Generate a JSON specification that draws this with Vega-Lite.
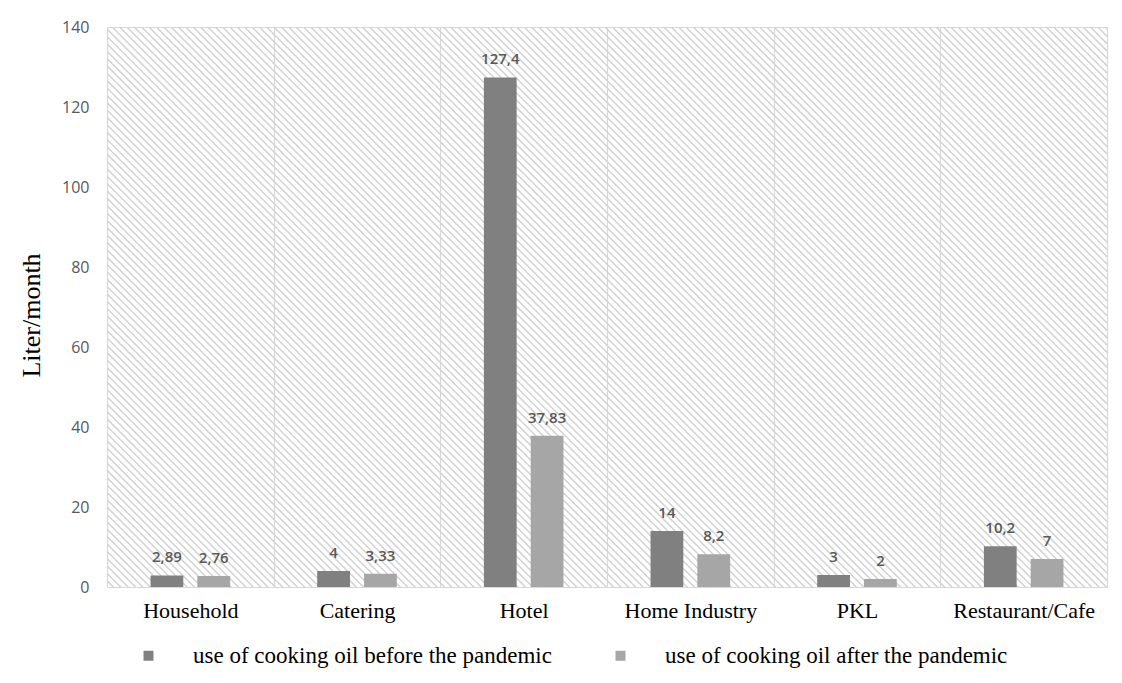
{
  "$schema": "https://vega.github.io/schema/vega-lite/v6.json",
  "width": 1000,
  "height": 560,
  "autosize": "none",
  "padding": {"left": 107, "top": 27, "right": 15, "bottom": 96},
  "background": "white",
  "config": {
    "locale": {"number": {"decimal": ",", "thousands": ".", "grouping": [3], "currency": ["", ""]}},
    "view": {"stroke": "#d9d9d9", "strokeWidth": 1},
    "axis": {"gridColor": "#d9d9d9", "gridWidth": 1.2, "domain": false, "ticks": false}
  },
  "data": {"values": [
    {"sector": "Household", "period": "use of cooking oil before the pandemic", "value": 2.89},
    {"sector": "Household", "period": "use of cooking oil after the pandemic", "value": 2.76},
    {"sector": "Catering", "period": "use of cooking oil before the pandemic", "value": 4},
    {"sector": "Catering", "period": "use of cooking oil after the pandemic", "value": 3.33},
    {"sector": "Hotel", "period": "use of cooking oil before the pandemic", "value": 127.4},
    {"sector": "Hotel", "period": "use of cooking oil after the pandemic", "value": 37.83},
    {"sector": "Home Industry", "period": "use of cooking oil before the pandemic", "value": 14},
    {"sector": "Home Industry", "period": "use of cooking oil after the pandemic", "value": 8.2},
    {"sector": "PKL", "period": "use of cooking oil before the pandemic", "value": 3},
    {"sector": "PKL", "period": "use of cooking oil after the pandemic", "value": 2},
    {"sector": "Restaurant/Cafe", "period": "use of cooking oil before the pandemic", "value": 10.2},
    {"sector": "Restaurant/Cafe", "period": "use of cooking oil after the pandemic", "value": 7}
  ]},
  "layer": [
    {
      "data": {"values": [{}]},
      "mark": {"type": "rule", "clip": true, "strokeWidth": 2000, "strokeDash": [1.5, 3.7], "color": "#d3d3d3"},
      "encoding": {
        "x": {"datum": "Household"},
        "x2": {"datum": "Restaurant/Cafe"},
        "y": {"datum": -34.2},
        "y2": {"datum": 174.2}
      }
    },
    {
      "mark": {"type": "bar"},
      "encoding": {
        "x": {
          "field": "sector", "type": "nominal",
          "sort": ["Household", "Catering", "Hotel", "Home Industry", "PKL", "Restaurant/Cafe"],
          "scale": {"paddingInner": 0, "paddingOuter": 0},
          "axis": {"title": null, "tickBand": "extent", "grid": true, "labelAngle": 0, "labelAlign": "center", "labelFont": "Liberation Serif", "labelFontSize": 22, "labelColor": "black", "labelPadding": 23}
        },
        "xOffset": {
          "field": "period", "type": "nominal",
          "sort": ["use of cooking oil before the pandemic", "use of cooking oil after the pandemic"],
          "scale": {"paddingInner": 0.3, "paddingOuter": 0.93}
        },
        "y": {
          "field": "value", "type": "quantitative",
          "scale": {"domain": [0, 140], "nice": false},
          "axis": {"title": "Liter/month", "titleY": 288, "values": [0, 20, 40, 60, 80, 100, 120, 140], "labelFont": "Open Sans", "labelFontSize": 16, "labelColor": "#595959", "labelPadding": 18, "titleFont": "Liberation Serif", "titleFontSize": 26, "titleFontWeight": "normal", "titleColor": "black", "titlePadding": 17}
        },
        "color": {
          "field": "period", "type": "nominal",
          "scale": {"domain": ["use of cooking oil before the pandemic", "use of cooking oil after the pandemic"], "range": ["#808080", "#a6a6a6"]},
          "legend": {"title": null, "orient": "none", "legendX": 30, "legendY": 617, "direction": "horizontal", "symbolType": "square", "symbolSize": 100, "symbolStrokeWidth": 0, "labelFont": "Liberation Serif", "labelFontSize": 23, "labelColor": "black", "labelOffset": 33, "columnPadding": 57, "labelLimit": 600}
        }
      }
    },
    {
      "mark": {"type": "text", "baseline": "alphabetic", "dy": -13, "font": "Open Sans", "fontSize": 15, "fontWeight": 600, "color": "#595959"},
      "encoding": {
        "x": {"field": "sector", "type": "nominal", "sort": ["Household", "Catering", "Hotel", "Home Industry", "PKL", "Restaurant/Cafe"]},
        "xOffset": {"field": "period", "type": "nominal", "sort": ["use of cooking oil before the pandemic", "use of cooking oil after the pandemic"]},
        "y": {"field": "value", "type": "quantitative"},
        "text": {"field": "value", "type": "quantitative"}
      }
    }
  ]
}
